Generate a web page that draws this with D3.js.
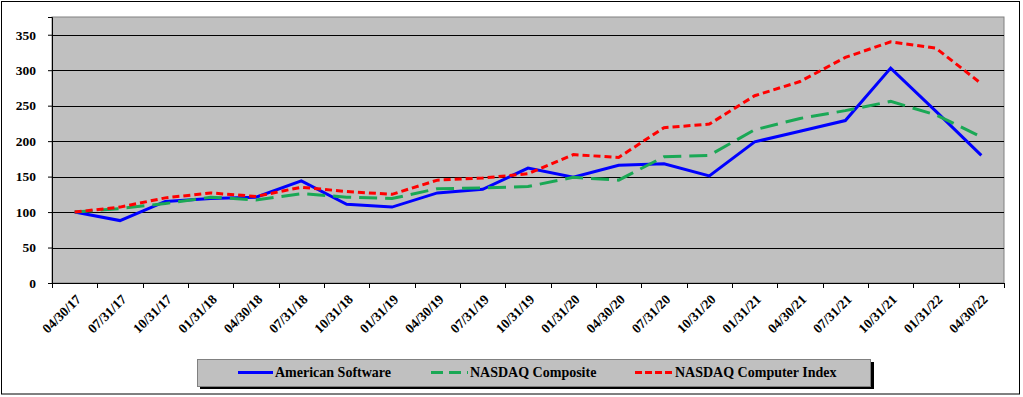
<!DOCTYPE html>
<html>
<head>
<meta charset="utf-8">
<script src="https://cdn.jsdelivr.net/npm/d3@7"></script>
<style>
  body { margin: 0; background: #fff; }
  text { font-family: "Liberation Serif", "Times New Roman", serif; font-weight: bold; }
</style>
</head>
<body>
<div id="chart"></div>
<script>
// quarter end dates
var dates = ["04/30/17","07/31/17","10/31/17","01/31/18","04/30/18","07/31/18","10/31/18",
  "01/31/19","04/30/19","07/31/19","10/31/19","01/31/20","04/30/20","07/31/20","10/31/20",
  "01/31/21","04/30/21","07/31/21","10/31/21","01/31/22","04/30/22"];

var americanSoftware = [100, 88, 115, 119, 121, 144, 111, 107, 127, 132, 162, 149, 166, 168, 151,
  199, 214, 229, 303, 242, 180];
var nasdaqComposite = [100, 105, 112, 121, 117, 126, 121, 119, 133, 134, 136, 149, 145, 178, 180,
  216, 232, 243, 256, 237, 206];
var nasdaqComputer = [100, 107, 120, 127, 122, 135, 129, 125, 145, 148, 154, 181, 177, 219, 224,
  264, 284, 318, 340, 331, 281];

var yTicks = [0, 50, 100, 150, 200, 250, 300, 350];

var series = [
  {name: "American Software", values: americanSoftware, color: "#0000ff", dash: null},
  {name: "NASDAQ Composite", values: nasdaqComposite, color: "#1aa855", dash: "18,8"},
  {name: "NASDAQ Computer Index", values: nasdaqComputer, color: "#ff0000", dash: "7,4"}
];

var width = 1023, height = 397;
var plotL = 52, plotT = 17, plotR = 1004, plotB = 283;

var svg = d3.select("#chart").append("svg")
    .attr("width", width)
    .attr("height", height);

// outer border
svg.append("rect")
    .attr("x", 1.5).attr("y", 1.5)
    .attr("width", 1018).attr("height", 392.5)
    .attr("fill", "#fff")
    .attr("stroke", "#000")
    .attr("stroke-width", 1);

var x = d3.scaleBand().domain(dates).range([plotL, plotR]);
var y = d3.scaleLinear().domain([0, 375]).range([plotB, plotT]);

// plot area
svg.append("rect")
    .attr("x", plotL).attr("y", plotT)
    .attr("width", plotR - plotL).attr("height", plotB - plotT)
    .attr("fill", "#c0c0c0")
    .attr("stroke", "#808080")
    .attr("stroke-width", 1);

// gridlines
svg.append("g").selectAll("line")
    .data(yTicks.filter(function(d) { return d > 0; }))
    .enter().append("line")
    .attr("x1", plotL).attr("x2", plotR)
    .attr("y1", function(d) { return Math.round(y(d)) + 0.5; })
    .attr("y2", function(d) { return Math.round(y(d)) + 0.5; })
    .attr("stroke", "#000")
    .attr("stroke-width", 1);

// y axis
var yAxis = svg.append("g")
    .attr("transform", "translate(" + plotL + ",0)")
    .call(d3.axisLeft(y).tickValues(yTicks).tickSize(4).tickPadding(12));
yAxis.select(".domain").attr("stroke", "#000");
yAxis.selectAll("text").attr("font-size", 13.5).attr("fill", "#000")
    .style("font-family", "Liberation Serif").style("font-weight", "bold");

// x axis: ticks on band boundaries
var xg = svg.append("g").attr("transform", "translate(0," + plotB + ")");
xg.append("line").attr("x1", plotL).attr("x2", plotR).attr("y1", 0.5).attr("y2", 0.5)
    .attr("stroke", "#000");
var bounds = dates.map(function(d) { return x(d); }).concat([plotR]);
xg.selectAll("line.tick").data(bounds).enter().append("line")
    .attr("class", "tick")
    .attr("x1", function(d) { return Math.round(d) + 0.5; })
    .attr("x2", function(d) { return Math.round(d) + 0.5; })
    .attr("y1", 0).attr("y2", 5)
    .attr("stroke", "#000");
xg.selectAll("text").data(dates).enter().append("text")
    .attr("transform", function(d) {
      return "translate(" + (x(d) + x.bandwidth() / 2) + ",10) rotate(-45)";
    })
    .attr("text-anchor", "end")
    .attr("dy", "0.75em")
    .attr("font-size", 13.5)
    .text(function(d) { return d; });

// lines
var line = d3.line()
    .x(function(d, i) { return x(dates[i]) + x.bandwidth() / 2; })
    .y(function(d) { return y(d); });

svg.append("g").selectAll("path")
    .data(series)
    .enter().append("path")
    .attr("d", function(s) { return line(s.values); })
    .attr("fill", "none")
    .attr("stroke", function(s) { return s.color; })
    .attr("stroke-width", 3)
    .attr("stroke-dasharray", function(s) { return s.dash; });

// legend
var legend = svg.append("g");
legend.append("rect")
    .attr("x", 200).attr("y", 362).attr("width", 674).attr("height", 27)
    .attr("fill", "#000");
legend.append("rect")
    .attr("x", 197.5).attr("y", 359.5).attr("width", 673).attr("height", 27)
    .attr("fill", "#c0c0c0").attr("stroke", "#808080");

var legX = [238, 431, 635];
var legLen = [35, 37, 38];
series.forEach(function(s, i) {
  legend.append("line")
      .attr("x1", legX[i]).attr("x2", legX[i] + legLen[i])
      .attr("y1", 372.5).attr("y2", 372.5)
      .attr("stroke", s.color)
      .attr("stroke-width", 3)
      .attr("stroke-dasharray", s.dash ? (i === 1 ? "12,6" : "7,3") : null);
  legend.append("text")
      .attr("x", legX[i] + legLen[i] + 2)
      .attr("y", 377)
      .attr("font-size", 14)
      .text(s.name);
});
</script>
</body>
</html>
